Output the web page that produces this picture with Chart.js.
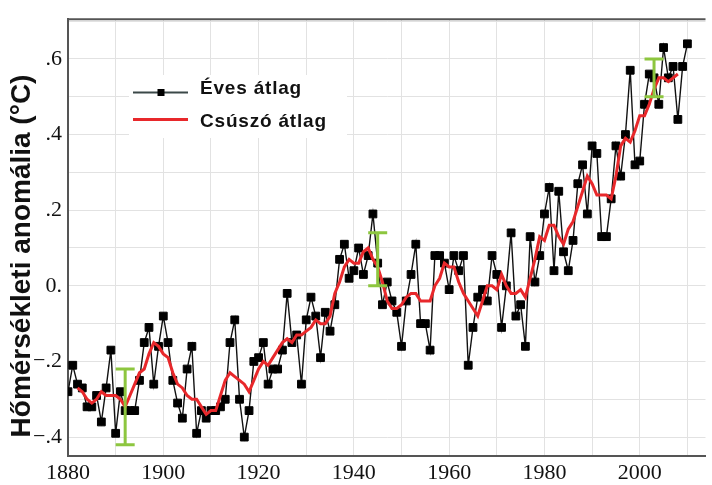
<!DOCTYPE html>
<html>
<head>
<meta charset="utf-8">
<script src="https://cdn.jsdelivr.net/npm/chart.js@4"></script>
<style>
  body { margin: 0; background: #fff; }
  canvas { display: block; }
</style>
</head>
<body>
<canvas id="myChart" width="712" height="485"></canvas>
<script>
// évek és éves átlag (°C)
const years = [];
for (let y = 1880; y <= 2010; y++) years.push(y);

const annual = [
  -0.28, -0.21, -0.26, -0.27, -0.32, -0.32, -0.29, -0.36, -0.27, -0.17,
  -0.39, -0.28, -0.33, -0.33, -0.33, -0.25, -0.15, -0.11, -0.26, -0.16,
  -0.08, -0.15, -0.25, -0.31, -0.35, -0.22, -0.16, -0.39, -0.33, -0.35,
  -0.33, -0.33, -0.32, -0.30, -0.15, -0.09, -0.30, -0.40, -0.33, -0.20,
  -0.19, -0.15, -0.26, -0.22, -0.22, -0.17, -0.02, -0.15, -0.13, -0.26,
  -0.09, -0.03, -0.08, -0.19, -0.07, -0.12, -0.05, 0.07, 0.11, 0.02,
  0.04, 0.10, 0.03, 0.08, 0.19, 0.06, -0.05, 0.01, -0.04, -0.07,
  -0.16, -0.04, 0.03, 0.11, -0.10, -0.10, -0.17, 0.08, 0.08, 0.06,
  -0.01, 0.08, 0.04, 0.08, -0.21, -0.11, -0.03, -0.01, -0.04, 0.08,
  0.03, -0.11, 0.00, 0.14, -0.08, -0.05, -0.16, 0.13, 0.01, 0.08,
  0.19, 0.26, 0.04, 0.25, 0.09, 0.04, 0.12, 0.27, 0.32, 0.19,
  0.37, 0.35, 0.13, 0.13, 0.23, 0.37, 0.29, 0.40, 0.57, 0.32,
  0.33, 0.48, 0.56, 0.55, 0.48, 0.63, 0.55, 0.58, 0.44, 0.58,
  0.64
];

// csúszó átlag, 1882-2008
const smoothYears = [];
for (let y = 1882; y <= 2008; y++) smoothYears.push(y);

const smooth = [
  -0.27, -0.28, -0.30, -0.31, -0.30, -0.28, -0.29, -0.29,
  -0.29, -0.30, -0.32, -0.29, -0.26, -0.23, -0.22, -0.18, -0.15, -0.16,
  -0.18, -0.19, -0.23, -0.26, -0.27, -0.29, -0.30, -0.30, -0.32, -0.34,
  -0.33, -0.33, -0.29, -0.25, -0.23, -0.24, -0.25, -0.26, -0.28, -0.25,
  -0.22, -0.20, -0.21, -0.19, -0.17, -0.15, -0.14, -0.15, -0.13, -0.13,
  -0.12, -0.11, -0.09, -0.10, -0.10, -0.08, -0.02, 0.01, 0.05, 0.07,
  0.06, 0.06, 0.09, 0.10, 0.07, 0.05, 0.01, -0.04, -0.06, -0.06,
  -0.05, -0.03, -0.02, -0.02, -0.04, -0.04, -0.04, 0.00, 0.02, 0.06,
  0.05, 0.05, 0.01, -0.02, -0.04, -0.06, -0.08, -0.04, 0.00, 0.00,
  -0.01, 0.03, 0.00, -0.02, -0.02, -0.01, -0.03, 0.02, 0.07, 0.13,
  0.12, 0.16, 0.16, 0.13, 0.11, 0.15, 0.17, 0.21, 0.25, 0.29,
  0.27, 0.24, 0.24, 0.24, 0.23, 0.29, 0.37, 0.39, 0.38, 0.41,
  0.45, 0.45, 0.48, 0.52, 0.55, 0.55, 0.54, 0.55, 0.56
];

// hibasávok
const errYears = [1892, 1945, 2003];
const errLow = [-0.42, 0.00, 0.50];
const errHigh = [-0.22, 0.14, 0.60];

// tengelyek
const xGrid = [1880, 1890, 1900, 1910, 1920, 1930, 1940, 1950, 1960, 1970, 1980, 1990, 2000, 2010];
const xLabelValues = [1880, 1900, 1920, 1940, 1960, 1980, 2000];
const xLabelTexts = ['1880', '1900', '1920', '1940', '1960', '1980', '2000'];

const yGrid = [-0.4, -0.3, -0.2, -0.1, 0, 0.1, 0.2, 0.3, 0.4, 0.5, 0.6, 0.7];
const yLabelValues = [-0.4, -0.2, 0, 0.2, 0.4, 0.6];
const yLabelTexts = ['\u2212.4', '\u2212.2', '0.', '.2', '.4', '.6'];

const yTitle = 'Hőmérsékleti anomália (°C)';
const legendTexts = ['Éves átlag', 'Csúszó átlag'];

let findLabel = (values, texts, v) => {
    for (let i = 0; i < values.length; i++) {
        if (Math.abs(values[i] - v) < 1e-6) return texts[i];
    }
    return '';
}

const errorBars = {
    id: 'errorBars',
    afterDatasetsDraw(chart) {
        const ctx = chart.ctx;
        const xs = chart.scales.x, ys = chart.scales.y;
        ctx.save();
        ctx.strokeStyle = '#8dc63f';
        ctx.lineWidth = 3;
        for (let i = 0; i < errYears.length; i++) {
            const x = xs.getPixelForValue(errYears[i]);
            const y1 = ys.getPixelForValue(errLow[i]);
            const y2 = ys.getPixelForValue(errHigh[i]);
            ctx.beginPath();
            ctx.moveTo(x, y1); ctx.lineTo(x, y2);
            ctx.moveTo(x - 9.5, y1); ctx.lineTo(x + 9.5, y1);
            ctx.moveTo(x - 9.5, y2); ctx.lineTo(x + 9.5, y2);
            ctx.stroke();
        }
        ctx.restore();
    }
};

const legendBox = {
    id: 'legendBox',
    beforeDatasetsDraw(chart) {
        const ctx = chart.ctx;
        ctx.save();
        ctx.fillStyle = '#fff';
        ctx.fillRect(129, 75, 218, 63);

        ctx.strokeStyle = '#3b4848';
        ctx.lineWidth = 2;
        ctx.beginPath(); ctx.moveTo(133, 92.5); ctx.lineTo(188, 92.5); ctx.stroke();
        ctx.fillStyle = '#000';
        ctx.fillRect(157.5, 89, 7, 7);

        ctx.strokeStyle = '#e8282b';
        ctx.lineWidth = 3;
        ctx.beginPath(); ctx.moveTo(133, 119.5); ctx.lineTo(188, 119.5); ctx.stroke();

        ctx.fillStyle = '#111';
        ctx.font = 'bold 19px "Liberation Sans", Arial, sans-serif';
        ctx.letterSpacing = '0.8px';
        ctx.textBaseline = 'alphabetic';
        ctx.fillText(legendTexts[0], 200, 94);
        ctx.fillText(legendTexts[1], 200, 127);
        ctx.restore();
    },
    afterDraw(chart) {
        const ctx = chart.ctx;
        const a = chart.chartArea;
        ctx.save();
        // felső keret
        ctx.strokeStyle = '#555';
        ctx.lineWidth = 2;
        ctx.beginPath(); ctx.moveTo(a.left - 1, a.top); ctx.lineTo(a.right, a.top); ctx.stroke();
        // y tengely címe
        ctx.translate(22, 256);
        ctx.rotate(-Math.PI / 2);
        ctx.fillStyle = '#111';
        ctx.font = 'bold 28px "Liberation Sans", Arial, sans-serif';
        ctx.textAlign = 'center';
        ctx.textBaseline = 'middle';
        ctx.fillText(yTitle, 0, 0);
        ctx.restore();
    }
};

let draw = () => {

    const ctx = document.getElementById('myChart');

    const dataset = {
        datasets: [{
            label: legendTexts[1],
            data: smoothYears.map((y, i) => ({ x: y, y: smooth[i] })),
            borderColor: '#e8282b',
            borderWidth: 3,
            pointRadius: 0,
            fill: false,
            tension: 0,
            order: 0
        }, {
            label: legendTexts[0],
            data: years.map((y, i) => ({ x: y, y: annual[i] })),
            borderColor: '#111',
            borderWidth: 1.4,
            pointStyle: 'rect',
            pointRadius: 5.5,
            pointBackgroundColor: '#000',
            pointBorderColor: '#000',
            pointBorderWidth: 1,
            fill: false,
            tension: 0,
            order: 1
        }]
    };

    const config = {
        type: 'line',
        data: dataset,
        options: {
            responsive: false,
            animation: false,
            layout: { padding: { top: 7, right: 0, left: 0, bottom: 0 } },
            plugins: {
                legend: { display: false },
                tooltip: { enabled: false }
            },
            scales: {
                x: {
                    type: 'linear',
                    min: 1880,
                    max: 2013.8,
                    afterBuildTicks: (scale) => { scale.ticks = xGrid.map(v => ({ value: v })); },
                    afterFit: (scale) => { scale.height = 29; },
                    grid: { color: '#e2e2e2', lineWidth: 1, drawTicks: false },
                    border: { display: true, color: '#555', width: 2 },
                    ticks: {
                        padding: 4,
                        maxRotation: 0,
                        autoSkip: false,
                        color: '#111',
                        font: { family: '"Liberation Serif", "Times New Roman", serif', size: 22 },
                        callback: (v) => findLabel(xLabelValues, xLabelTexts, v)
                    }
                },
                y: {
                    min: -0.45,
                    max: 0.705,
                    afterBuildTicks: (scale) => { scale.ticks = yGrid.map(v => ({ value: v })); },
                    afterFit: (scale) => { scale.width = 68; },
                    grid: { color: '#e2e2e2', lineWidth: 1, drawTicks: false },
                    border: { display: true, color: '#555', width: 2 },
                    ticks: {
                        padding: 6,
                        autoSkip: false,
                        color: '#111',
                        font: { family: '"Liberation Serif", "Times New Roman", serif', size: 22 },
                        callback: (v) => findLabel(yLabelValues, yLabelTexts, v)
                    }
                }
            }
        },
        plugins: [legendBox, errorBars]
    };

    const chart = new Chart(ctx, config)
}

draw();
</script>
</body>
</html>
